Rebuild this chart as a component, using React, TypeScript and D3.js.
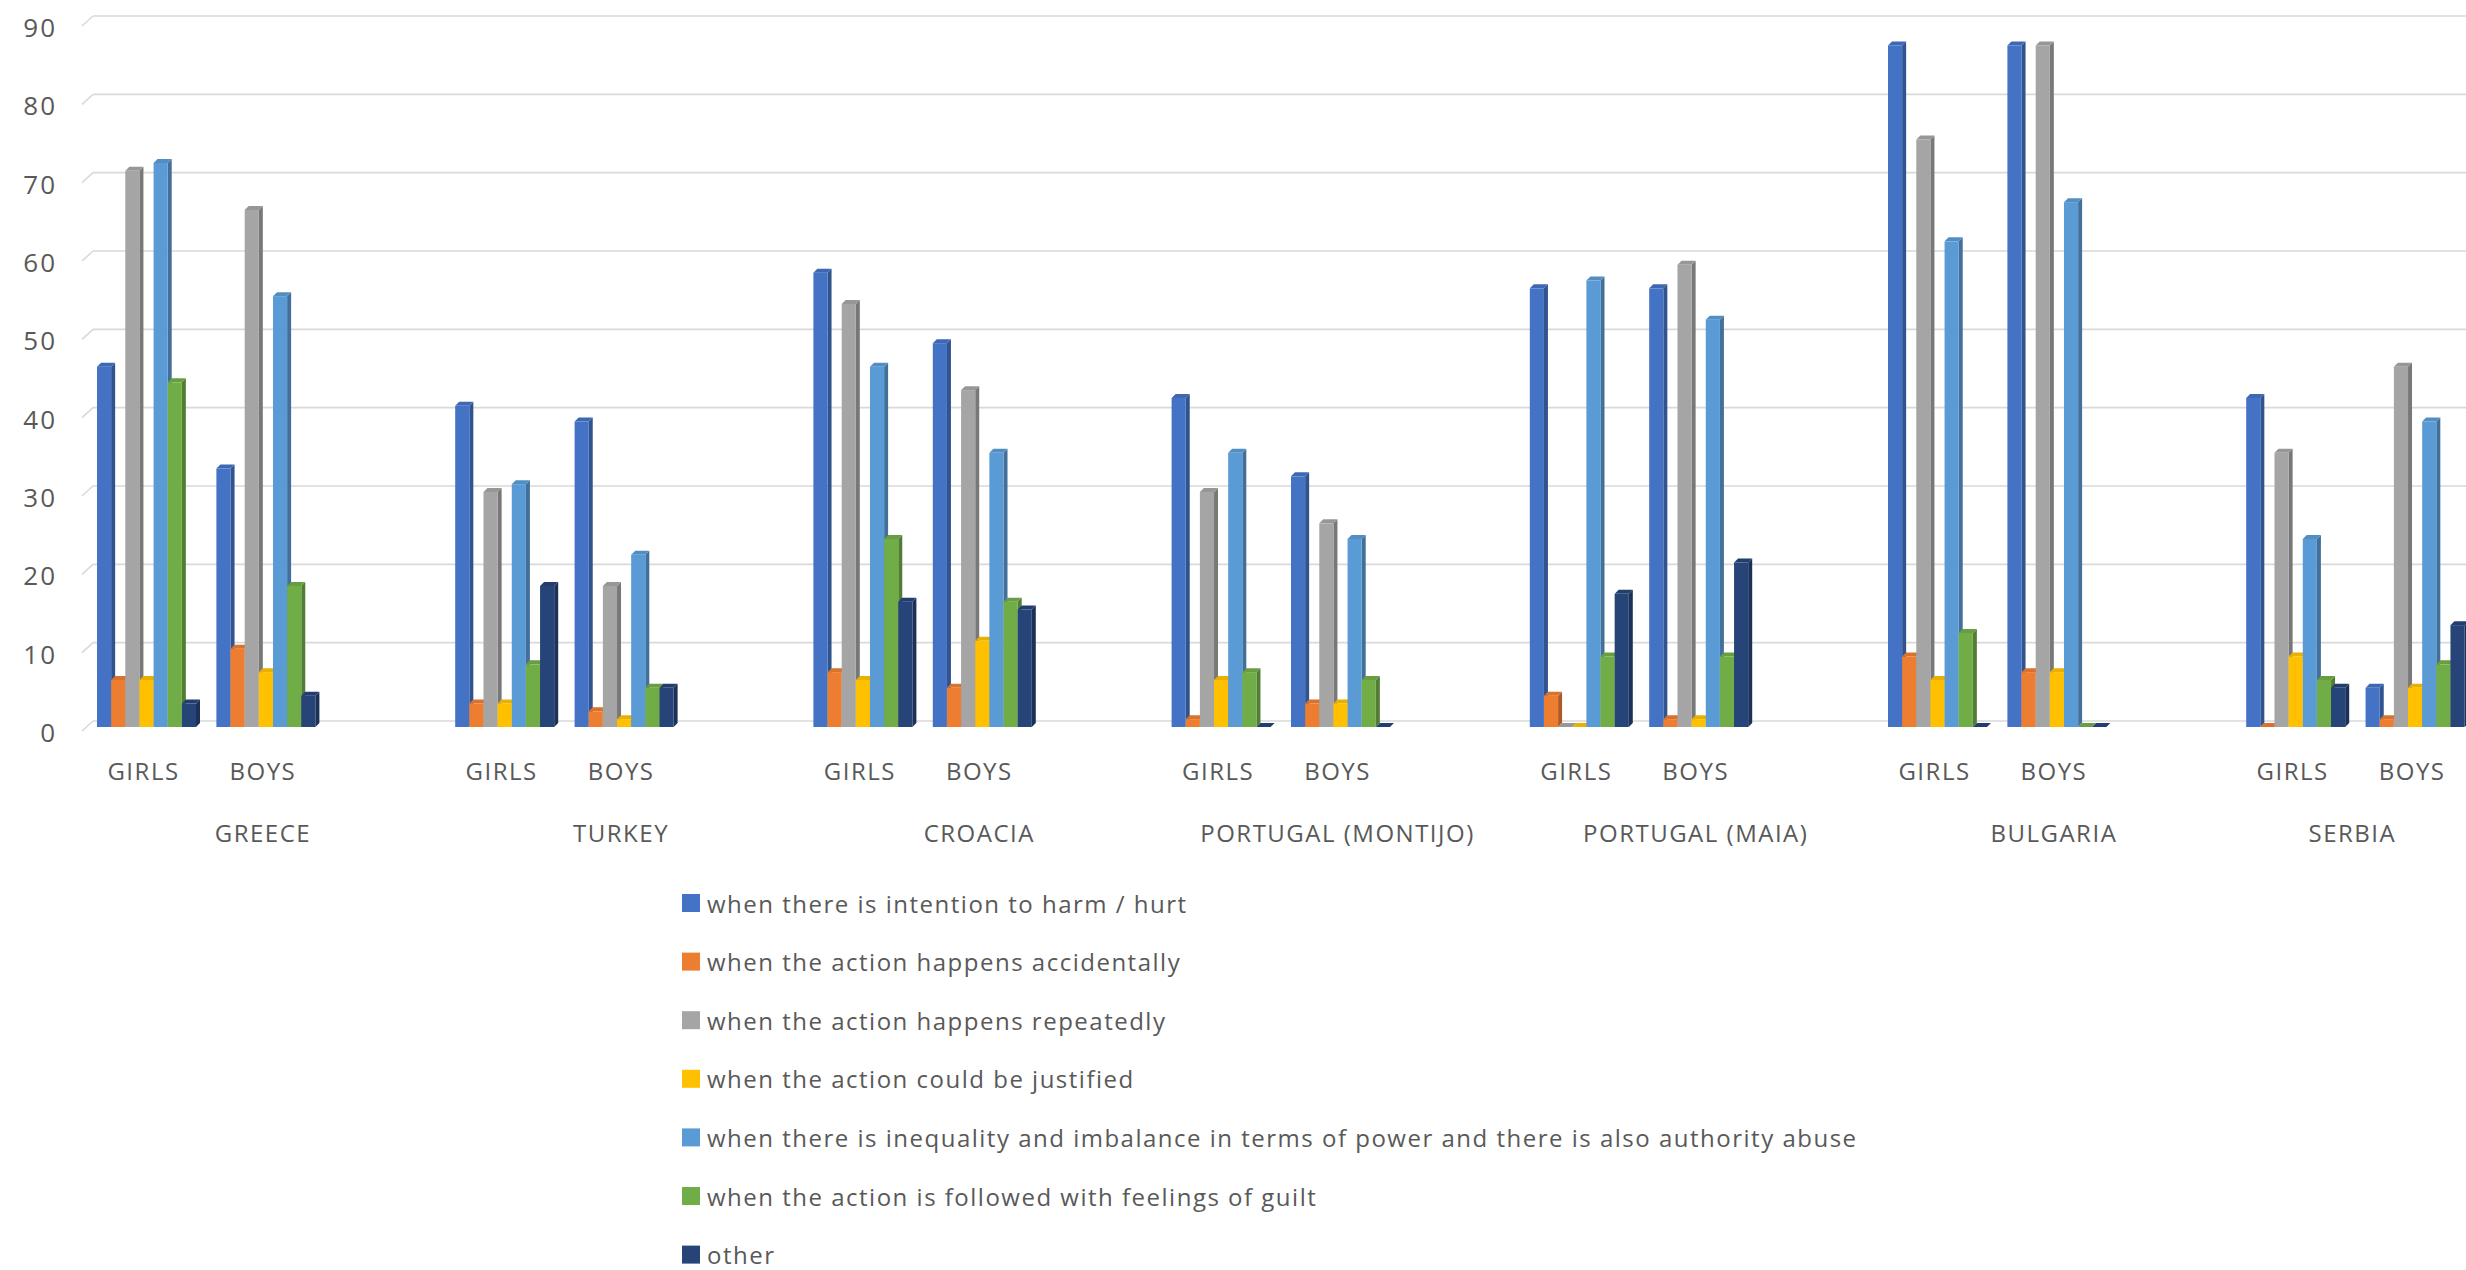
import React from "react";
import * as d3 from "d3";

const countries = ["GREECE", "TURKEY", "CROACIA", "PORTUGAL (MONTIJO)", "PORTUGAL (MAIA)", "BULGARIA", "SERBIA"];
const genders = ["GIRLS", "BOYS"];
const seriesNames = [
  "when there is intention to harm / hurt",
  "when the action happens accidentally",
  "when the action happens repeatedly",
  "when the action could be justified",
  "when there is inequality and imbalance in terms of power and there is also authority abuse",
  "when the action is followed with feelings of guilt",
  "other",
];
const seriesColors = ["#4472C4", "#ED7D31", "#A5A5A5", "#FFC000", "#5B9BD5", "#70AD47", "#264478"];
const yTicks = [0, 10, 20, 30, 40, 50, 60, 70, 80, 90];

// values per series, in order: Greece G, Greece B, Turkey G, Turkey B, Croacia G, Croacia B,
// Montijo G, Montijo B, Maia G, Maia B, Bulgaria G, Bulgaria B, Serbia G, Serbia B
const intention = [46, 33, 41, 39, 58, 49, 42, 32, 56, 56, 87, 87, 42, 5];
const accidental = [6, 10, 3, 2, 7, 5, 1, 3, 4, 1, 9, 7, 0, 1];
const repeated = [71, 66, 30, 18, 54, 43, 30, 26, 0, 59, 75, 87, 35, 46];
const justified = [6, 7, 3, 1, 6, 11, 6, 3, 0, 1, 6, 7, 9, 5];
const inequality = [72, 55, 31, 22, 46, 35, 35, 24, 57, 52, 62, 67, 24, 39];
const guilt = [44, 18, 8, 5, 24, 16, 7, 6, 9, 9, 12, 0, 6, 8];
const other = [3, 4, 18, 5, 16, 15, 0, 0, 17, 21, 0, 0, 5, 13];

const seriesValues = [intention, accidental, repeated, justified, inequality, guilt, other];

const W = 2466;
const H = 1270;
const TEXT = "#595959";
const FONT = "'Open Sans', sans-serif";

export default function App() {
  const nSlots = countries.length * 3 - 1;
  const slotW = 119.4;
  const firstCenter = 146.5;
  const slots = d3.range(nSlots);
  const x = d3
    .scaleBand<number>()
    .domain(slots)
    .range([firstCenter - slotW / 2, firstCenter - slotW / 2 + nSlots * slotW])
    .padding(0);
  const slotCenter = (s: number) => (x(s) as number) + x.bandwidth() / 2;
  const groupW = 99;
  const xs = d3.scaleBand<number>().domain(d3.range(seriesNames.length)).range([0, groupW]).padding(0);
  const y = d3.scaleLinear().domain([0, 90]).range([727, 22]);
  const base = y(0);
  const depth = 4;
  const gridOff = 6;

  const categories: { slot: number; gender: string; idx: number }[] = [];
  countries.forEach((c, ci) => {
    genders.forEach((g, gi) => {
      categories.push({ slot: ci * 3 + gi, gender: g, idx: ci * 2 + gi });
    });
  });

  return (
    <svg width={W} height={H} style={{ position: "absolute", left: 0, top: 0, background: "#fff" }}>
      {/* gridlines */}
      {yTicks.map((t) => {
        const gy = y(t) - gridOff;
        return (
          <g key={"g" + t}>
            <line x1={82} y1={gy + 10} x2={93} y2={gy} stroke="#d9d9d9" strokeWidth={1.6} />
            <line x1={93} y1={gy} x2={W} y2={gy} stroke="#d9d9d9" strokeWidth={1.6} />
            <text
              x={57}
              y={y(t) + 5}
              textAnchor="end"
              dominantBaseline="central"
              fontFamily={FONT}
              fontSize={26}
              letterSpacing={2}
              fill={TEXT}
            >
              {t}
            </text>
          </g>
        );
      })}

      {/* bars */}
      {categories.map((cat) => {
        const cx = slotCenter(cat.slot);
        const x0 = cx - groupW / 2;
        const bw = xs.bandwidth();
        return (
          <g key={"c" + cat.idx}>
            {seriesValues.map((vals, si) => {
              const v = vals[cat.idx];
              const xl = x0 + (xs(si) as number);
              const yt = y(v);
              const col = d3.color(seriesColors[si])!;
              const side = col.darker(0.9).formatHex();
              const top = col.darker(0.25).formatHex();
              return (
                <g key={"b" + si}>
                  <polygon
                    points={`${xl + bw},${yt} ${xl + bw + depth},${yt - depth} ${xl + bw + depth},${base - depth} ${xl + bw},${base}`}
                    fill={side}
                  />
                  <polygon
                    points={`${xl},${yt} ${xl + depth},${yt - depth} ${xl + bw + depth},${yt - depth} ${xl + bw},${yt}`}
                    fill={top}
                  />
                  <rect x={xl} y={yt} width={bw} height={base - yt} fill={seriesColors[si]} />
                </g>
              );
            })}
            <text
              x={cx - 3}
              y={770}
              textAnchor="middle"
              dominantBaseline="central"
              fontFamily={FONT}
              fontSize={24}
              letterSpacing={1.5}
              fill={TEXT}
            >
              {cat.gender}
            </text>
          </g>
        );
      })}

      {/* country labels */}
      {countries.map((c, ci) => {
        const first = ci * 3;
        const last = Math.min(ci * 3 + 2, nSlots - 1);
        const cx = (slotCenter(first) + slotCenter(last)) / 2;
        return (
          <text
            key={"ct" + ci}
            x={cx - 3}
            y={832}
            textAnchor="middle"
            dominantBaseline="central"
            fontFamily={FONT}
            fontSize={24}
            letterSpacing={1.5}
            fill={TEXT}
          >
            {c}
          </text>
        );
      })}

      {/* legend */}
      {seriesNames.map((name, si) => {
        const cy = 903 + si * 58.6;
        return (
          <g key={"l" + si}>
            <rect x={682} y={cy - 9} width={18} height={18} fill={seriesColors[si]} />
            <text
              x={707}
              y={cy}
              dominantBaseline="central"
              fontFamily={FONT}
              fontSize={24}
              letterSpacing={1.5}
              fill={TEXT}
            >
              {name}
            </text>
          </g>
        );
      })}
    </svg>
  );
}
